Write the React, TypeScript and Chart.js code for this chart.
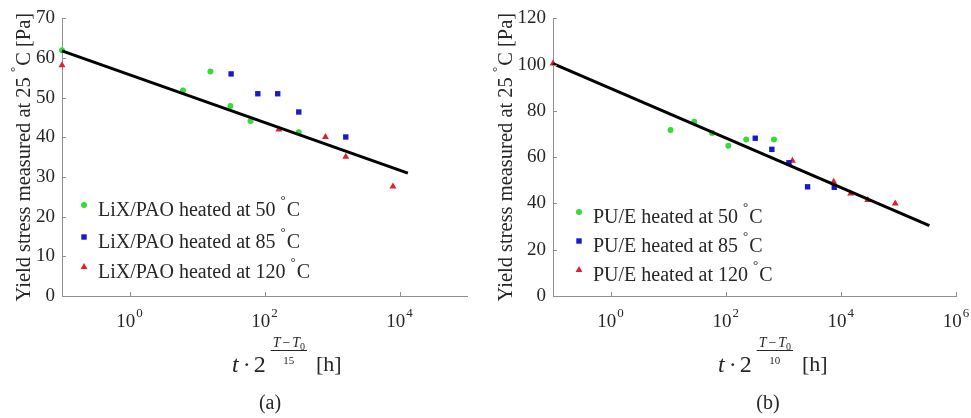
import React, { useEffect, useRef } from "react";
import { Chart, registerables } from "chart.js";
Chart.register(...registerables);

const SERIF = '"Liberation Serif", "Times New Roman", serif';
const TXT = "#262626";
const AXIS = "#8f8f8f";
const GREEN = "#33dd33";
const BLUE = "#1818d0";
const RED = "#e0202a";

// ---------- (a) LiX/PAO ----------
const lixLabels = ["LiX/PAO heated at 50", "LiX/PAO heated at 85", "LiX/PAO heated at 120"];
const lixX50 = [0.1, 6.2, 15.8, 31.3, 62, 322];
const lixY50 = [62.0, 51.8, 56.6, 47.9, 44.1, 41.3];
const lixX85 = [32, 79.6, 157, 322, 1600];
const lixY85 = [56.0, 51.0, 51.0, 46.4, 40.1];
const lixX120 = [0.1, 163, 800, 1600, 8000];
const lixY120 = [58.2, 42.0, 40.1, 35.1, 27.6];
const lixFitX = [0.1, 13300];
const lixFitY = [61.8, 31.0];
const lixXMin = 0.1;
const lixXMax = 1e5;
const lixYMax = 70;
const lixYStep = 10;
const lixTickExp = [0, 2, 4];
const lixDenom = "15";
const lixCaption = "(a)";

// ---------- (b) PU/E ----------
const puLabels = ["PU/E heated at 50", "PU/E heated at 85", "PU/E heated at 120"];
const puX50 = [11, 28.4, 58, 111, 227, 690];
const puY50 = [71.8, 75.3, 70.5, 64.9, 67.7, 67.7];
const puX85 = [326, 633, 1255, 2640, 7680];
const puY85 = [68.2, 63.4, 57.6, 47.2, 47.0];
const puX120 = [0.1, 1440, 7500, 14800, 29300, 88000];
const puY120 = [100.5, 58.5, 49.4, 44.3, 41.5, 40.0];
const puFitX = [0.1, 345000];
const puFitY = [100.5, 30.4];
const puXMin = 0.1;
const puXMax = 1e6;
const puYMax = 120;
const puYStep = 20;
const puTickExp = [0, 2, 4, 6];
const puDenom = "10";
const puCaption = "(b)";

const yTitleMain = "Yield stress measured at 25 ";
const yTitleTail = "C [Pa]";

const zip = (xs: number[], ys: number[]) => xs.map((x, i) => ({ x, y: ys[i] }));

type Spec = {
  width: number;
  yWidth: number;
  rightPad: number;
  labels: string[];
  x50: number[]; y50: number[];
  x85: number[]; y85: number[];
  x120: number[]; y120: number[];
  fitX: number[]; fitY: number[];
  xMin: number; xMax: number; yMax: number; yStep: number;
  tickExp: number[];
  denom: string;
  caption: string;
  yTitleX: number;
  xTitleX: number;
  captionX: number;
  legMarkX: number;
  legTextX: number;
  legY: number[];
};

function drawMarker(ctx: CanvasRenderingContext2D, kind: string, x: number, y: number, color: string) {
  ctx.fillStyle = color;
  ctx.beginPath();
  if (kind === "circle") {
    ctx.arc(x, y, 3, 0, Math.PI * 2);
  } else if (kind === "rect") {
    ctx.rect(x - 2.7, y - 2.7, 5.4, 5.4);
  } else {
    const r = 4;
    ctx.moveTo(x, y - r);
    ctx.lineTo(x + r * 0.866, y + r * 0.5);
    ctx.lineTo(x - r * 0.866, y + r * 0.5);
    ctx.closePath();
  }
  ctx.fill();
}

function buildChart(canvas: HTMLCanvasElement, s: Spec) {
  const decor = {
    id: "decor",
    afterDraw(chart: any) {
      const ctx: CanvasRenderingContext2D = chart.ctx;
      const { left, top, bottom } = chart.chartArea;
      const xs = chart.scales.x;
      const ys = chart.scales.y;
      ctx.save();
      // inward tick marks
      ctx.strokeStyle = AXIS;
      ctx.lineWidth = 1;
      ys.ticks.forEach((t: any) => {
        const py = Math.round(ys.getPixelForValue(t.value)) + 0.5;
        ctx.beginPath();
        ctx.moveTo(left, py);
        ctx.lineTo(left + 4, py);
        ctx.stroke();
      });
      s.tickExp.forEach((e) => {
        const px = Math.round(xs.getPixelForValue(Math.pow(10, e))) + 0.5;
        ctx.beginPath();
        ctx.moveTo(px, bottom);
        ctx.lineTo(px, bottom - 4);
        ctx.stroke();
      });
      // x tick labels 10^n
      ctx.fillStyle = TXT;
      ctx.textAlign = "left";
      ctx.textBaseline = "alphabetic";
      s.tickExp.forEach((e) => {
        const px = xs.getPixelForValue(Math.pow(10, e));
        ctx.font = `19px ${SERIF}`;
        const w1 = ctx.measureText("10").width;
        ctx.font = `13px ${SERIF}`;
        const w2 = ctx.measureText(String(e)).width;
        const x0 = px - (w1 + w2 + 1) / 2;
        ctx.font = `19px ${SERIF}`;
        ctx.fillText("10", x0, bottom + 31);
        ctx.font = `13px ${SERIF}`;
        ctx.fillText(String(e), x0 + w1 + 1, bottom + 21);
      });
      // y title (rotated)
      ctx.save();
      ctx.translate(s.yTitleX, (top + bottom) / 2);
      ctx.rotate(-Math.PI / 2);
      ctx.font = `20.5px ${SERIF}`;
      const a = ctx.measureText(yTitleMain).width;
      const c = ctx.measureText(yTitleTail).width;
      ctx.font = `13px ${SERIF}`;
      const b = ctx.measureText("°").width + 1;
      let tx = -(a + b + c) / 2;
      ctx.font = `20.5px ${SERIF}`;
      ctx.fillText(yTitleMain, tx, 0);
      tx += a;
      ctx.font = `13px ${SERIF}`;
      ctx.fillText("°", tx, -11);
      tx += b;
      ctx.font = `20.5px ${SERIF}`;
      ctx.fillText(yTitleTail, tx, 0);
      ctx.restore();
      // x title: t · 2^{(T−T0)/denom} [h]
      let x = s.xTitleX;
      const base = 372;
      ctx.font = `italic 24px ${SERIF}`;
      ctx.fillText("t", x, base);
      x += ctx.measureText("t").width + 4;
      ctx.font = `24px ${SERIF}`;
      ctx.fillText("\u00b7", x, base);
      x += ctx.measureText("\u00b7").width + 3;
      ctx.fillText("2", x, base);
      x += ctx.measureText("2").width + 5;
      ctx.font = `italic 14px ${SERIF}`;
      const numMain = "T\u200a\u2212\u200aT";
      const nw = ctx.measureText(numMain).width;
      ctx.font = `10px ${SERIF}`;
      const sw = ctx.measureText("0").width;
      ctx.font = `11px ${SERIF}`;
      const dw = ctx.measureText(s.denom).width;
      const fw = Math.max(nw + sw, dw) + 4;
      const nx = x + (fw - nw - sw) / 2;
      ctx.font = `italic 14px ${SERIF}`;
      ctx.fillText(numMain, nx, 347);
      ctx.font = `10px ${SERIF}`;
      ctx.fillText("0", nx + nw, 350);
      ctx.fillRect(x, 350, fw, 1);
      ctx.font = `11px ${SERIF}`;
      ctx.fillText(s.denom, x + (fw - dw) / 2, 364);
      x += fw + 9;
      ctx.font = `22px ${SERIF}`;
      ctx.fillText("[h]", x, 371);
      // caption
      ctx.textAlign = "center";
      ctx.font = `20px ${SERIF}`;
      ctx.fillText(s.caption, s.captionX, 409);
      // legend
      const kinds = ["circle", "rect", "triangle"];
      const cols = [GREEN, BLUE, RED];
      s.labels.forEach((lab, i) => {
        const my = s.legY[i];
        drawMarker(ctx, kinds[i], s.legMarkX, my, cols[i]);
        ctx.fillStyle = TXT;
        ctx.textAlign = "left";
        let lx = s.legTextX;
        const bl = my + 11;
        ctx.font = `20px ${SERIF}`;
        ctx.fillText(lab + " ", lx, bl);
        lx += ctx.measureText(lab + " ").width;
        ctx.font = `13px ${SERIF}`;
        ctx.fillText("°", lx, bl - 12);
        lx += ctx.measureText("°").width + 1;
        ctx.font = `20px ${SERIF}`;
        ctx.fillText("C", lx, bl);
      });
      ctx.restore();
    },
  };

  return new Chart(canvas, {
    type: "scatter",
    data: {
      datasets: [
        {
          label: "fit",
          data: zip(s.fitX, s.fitY),
          showLine: true,
          borderColor: "#000000",
          borderWidth: 3,
          pointRadius: 0,
          clip: false,
        } as any,
        {
          label: s.labels[0],
          data: zip(s.x50, s.y50),
          pointStyle: "circle",
          pointRadius: 3,
          backgroundColor: GREEN,
          borderWidth: 0,
          clip: false,
        },
        {
          label: s.labels[1],
          data: zip(s.x85, s.y85),
          pointStyle: "rect",
          pointRadius: 3.8,
          backgroundColor: BLUE,
          borderWidth: 0,
          clip: false,
        },
        {
          label: s.labels[2],
          data: zip(s.x120, s.y120),
          pointStyle: "triangle",
          pointRadius: 4,
          backgroundColor: RED,
          borderWidth: 0,
          clip: false,
        },
      ],
    },
    options: {
      animation: false,
      responsive: false,
      maintainAspectRatio: false,
      events: [],
      layout: { autoPadding: false, padding: { left: 0, top: 18, right: s.rightPad, bottom: 0 } },
      plugins: { legend: { display: false }, tooltip: { enabled: false } },
      scales: {
        x: {
          type: "logarithmic",
          min: s.xMin,
          max: s.xMax,
          ticks: { display: false },
          grid: { display: false },
          border: { display: true, color: AXIS, width: 1 },
          afterFit: (sc: any) => {
            sc.height = 122;
          },
        },
        y: {
          type: "linear",
          min: 0,
          max: s.yMax,
          ticks: {
            stepSize: s.yStep,
            padding: 7,
            color: TXT,
            font: { family: SERIF, size: 19 },
          },
          grid: { display: false, drawTicks: false, tickLength: 0 },
          border: { display: true, color: AXIS, width: 1 },
          afterFit: (sc: any) => {
            sc.width = s.yWidth;
          },
        },
      },
    } as any,
    plugins: [decor],
  });
}

const specA: Spec = {
  width: 485,
  yWidth: 62,
  rightPad: 18,
  labels: lixLabels,
  x50: lixX50, y50: lixY50,
  x85: lixX85, y85: lixY85,
  x120: lixX120, y120: lixY120,
  fitX: lixFitX, fitY: lixFitY,
  xMin: lixXMin, xMax: lixXMax, yMax: lixYMax, yStep: lixYStep,
  tickExp: lixTickExp,
  denom: lixDenom,
  caption: lixCaption,
  yTitleX: 30,
  xTitleX: 232,
  captionX: 270,
  legMarkX: 84,
  legTextX: 98,
  legY: [205, 237, 267],
};

const specB: Spec = {
  width: 486,
  yWidth: 68,
  rightPad: 15,
  labels: puLabels,
  x50: puX50, y50: puY50,
  x85: puX85, y85: puY85,
  x120: puX120, y120: puY120,
  fitX: puFitX, fitY: puFitY,
  xMin: puXMin, xMax: puXMax, yMax: puYMax, yStep: puYStep,
  tickExp: puTickExp,
  denom: puDenom,
  caption: puCaption,
  yTitleX: 27,
  xTitleX: 233,
  captionX: 283,
  legMarkX: 94,
  legTextX: 108,
  legY: [212, 241, 270],
};

function Panel({ spec, left }: { spec: Spec; left: number }) {
  const ref = useRef<HTMLCanvasElement | null>(null);
  useEffect(() => {
    if (!ref.current) return;
    const ch = buildChart(ref.current, spec);
    return () => ch.destroy();
  }, [spec]);
  return (
    <canvas
      ref={ref}
      width={spec.width}
      height={418}
      style={{ position: "absolute", left, top: 0, width: spec.width, height: 418 }}
    />
  );
}

export default function App() {
  return (
    <div
      style={{
        position: "absolute",
        left: 0,
        top: 0,
        width: 971,
        height: 418,
        background: "#ffffff",
        overflow: "hidden",
      }}
    >
      <Panel spec={specA} left={0} />
      <Panel spec={specB} left={485} />
    </div>
  );
}
